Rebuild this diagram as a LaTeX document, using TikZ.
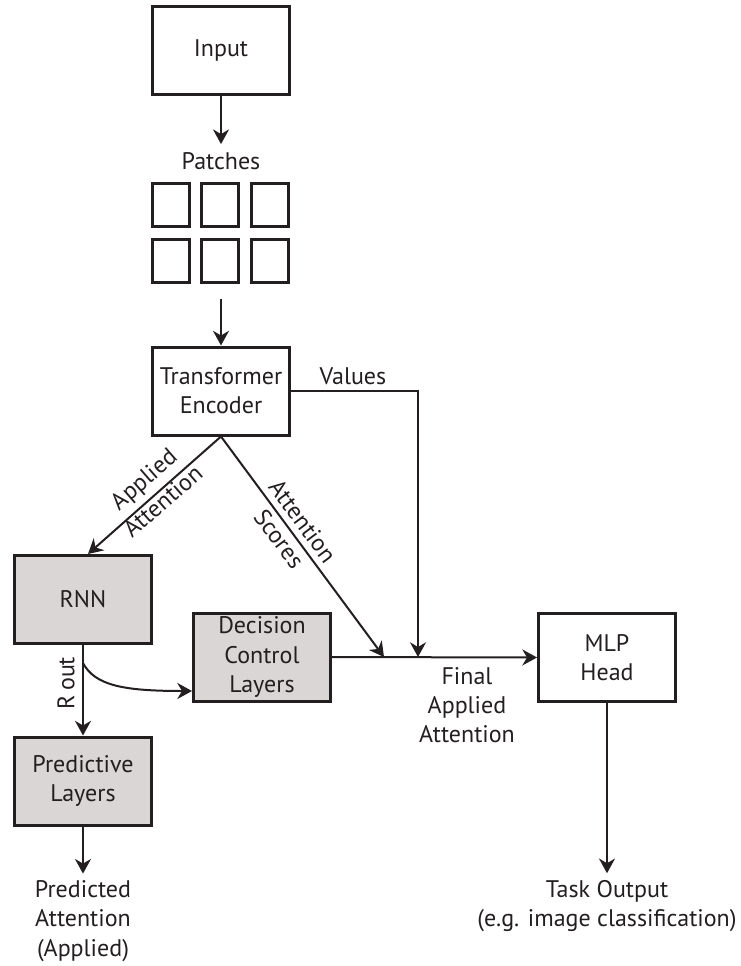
\documentclass[tikz,border=0pt]{standalone}
\usepackage{fontspec}
\setmainfont{PT Sans}
\usetikzlibrary{arrows.meta,calc}
\definecolor{ink}{HTML}{231F20}
\definecolor{boxgray}{HTML}{DAD6D5}
\begin{document}
\begin{tikzpicture}[x=0.75pt,y=-0.75pt,
  every node/.style={font=\fontsize{18}{22}\selectfont, text=ink},
  box/.style={draw=ink, line width=2.25pt, minimum width=102.75pt, minimum height=66pt, align=center, inner sep=0pt},
  graybox/.style={box, fill=boxgray},
  patch/.style={draw=ink, line width=2.25pt, minimum width=27.75pt, minimum height=32.25pt, inner sep=0pt},
  lbl/.style={align=center, inner sep=0pt},
  conn/.style={draw=ink, line width=1.5pt, -{Stealth[length=11pt,width=12pt,inset=3.5pt]}},
  plain/.style={draw=ink, line width=1.5pt}
]
\useasboundingbox (0,0) rectangle (740,966);

% boxes
\node[box] (input) at (221,50.5) {Input};
\node[box] (te) at (221,391) {Transformer\\Encoder};
\node[graybox] (rnn) at (83,599.5) {RNN};
\node[graybox] (dec) at (262,657) {Decision\\Control\\Layers};
\node[box] (mlp) at (607,657.5) {MLP\\Head};
\node[graybox] (pred) at (83,781) {Predictive\\Layers};

% patches
\node[lbl] (patches) at (221,161) {Patches};
\node[patch] (p11) at (171,205) {};
\node[patch] (p12) at (220,205) {};
\node[patch] (p13) at (270,205) {};
\node[patch] (p21) at (171,261) {};
\node[patch] (p22) at (220,261) {};
\node[patch] (p23) at (270,261) {};
\coordinate (pbot) at (221,299);

% labels
\node[lbl] (values) at (353,376) {Values};
\node[lbl, rotate=41] (applied) at (153,490) {Applied\\Attention};
\node[lbl, rotate=-53.4] (scores) at (291,530) {Attention\\Scores};
\node[lbl, rotate=90] (rout) at (66,683) {R\,out};
\node[lbl] (final) at (467,705) {Final\\Applied\\Attention};
\node[lbl] (predout) at (83,921) {Predicted\\Attention\\(Applied)};
\node[lbl] (taskout) at (607,906) {Task Output\\(e.g. image classification)};

% junction coordinates
\coordinate (vj) at (418,657);
\coordinate (sj) at (384,657);
\coordinate (cs) at ($(rnn.south)!0.2!(pred.north)$);

% connectors
\draw[conn] (input.south) -- ([yshift=6pt]patches.north);
\draw[conn] (pbot) -- (te.north);
\draw[conn] (te.east) -| (vj);
\draw[conn] (te.south) -- ([xshift=3.75pt]rnn.north);
\draw[conn] (te.south) -- (sj);
\draw[conn] (dec.east) -- (mlp.west);
\draw[conn] (rnn.south) -- (pred.north);
\draw[conn] (cs) .. controls ($(cs)+(12,22)$) and ($(dec.west)+(-70,34)$) .. ([yshift=-25.5pt]dec.west);
\draw[conn] (pred.south) -- ([yshift=5pt]predout.north);
\draw[conn] (mlp.south) -- ([yshift=5pt]taskout.north);
\end{tikzpicture}
\end{document}
